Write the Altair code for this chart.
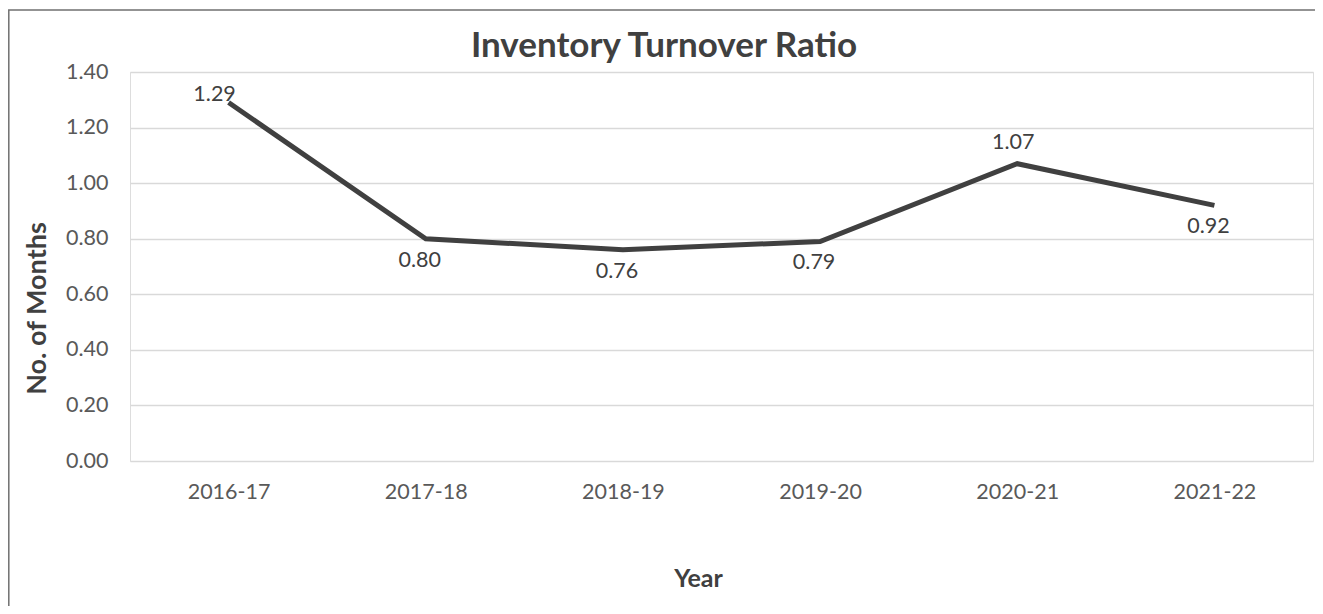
import altair as alt
import pandas as pd

years = ["2016-17", "2017-18", "2018-19", "2019-20", "2020-21", "2021-22"]
ratios = [1.29, 0.80, 0.76, 0.79, 1.07, 0.92]
above = ["2016-17", "2020-21"]
title_text = "Inventory Turnover Ratio"

df = pd.DataFrame({"Year": years, "Ratio": ratios})

W, H = 1183, 389
FONT = "Lato"
base = alt.Chart(df)

x_enc = alt.X(
    "Year:N",
    sort=years,
    scale=alt.Scale(type="point", padding=0.5),
    axis=alt.Axis(
        title="Year",
        labelAngle=0,
        labelFont=FONT,
        labelFontSize=21.5,
        labelColor="#595959",
        labelPadding=20,
        ticks=False,
        domain=False,
        grid=False,
        titleFont=FONT,
        titleFontSize=25,
        titleFontWeight="bold",
        titleColor="#404040",
        titleX=568,
        titleY=117,
        titleBaseline="middle",
        titleAlign="center",
    ),
)
y_enc = alt.Y(
    "Ratio:Q",
    scale=alt.Scale(domain=[0, 1.4], nice=False),
    axis=alt.Axis(
        title="No. of Months",
        values=[0, 0.2, 0.4, 0.6, 0.8, 1.0, 1.2, 1.4],
        format=".2f",
        labelFont=FONT,
        labelFontSize=21.5,
        labelColor="#595959",
        labelPadding=22,
        ticks=False,
        domain=False,
        gridColor="#d9d9d9",
        gridWidth=1.6,
        titleFont=FONT,
        titleFontSize=27,
        titleFontWeight="bold",
        titleColor="#404040",
        titleAngle=-90,
        titleX=-93,
        titleY=236,
        titleBaseline="middle",
        titleAlign="center",
    ),
)

line = base.mark_line(color="#404040", strokeWidth=5, strokeJoin="miter").encode(x=x_enc, y=y_enc)

lbl_common = dict(font=FONT, fontSize=21.5, color="#404040", baseline="middle", align="center")

lbl_first = base.transform_filter(alt.datum.Year == "2016-17").mark_text(
    dx=-14, dy=-8, **lbl_common
).encode(x=alt.X("Year:N", sort=years), y="Ratio:Q", text=alt.Text("Ratio:Q", format=".2f"))

lbl_above = base.transform_filter(alt.datum.Year == "2020-21").mark_text(
    dx=-4, dy=-21, **lbl_common
).encode(x=alt.X("Year:N", sort=years), y="Ratio:Q", text=alt.Text("Ratio:Q", format=".2f"))

lbl_below = base.transform_filter(
    alt.FieldOneOfPredicate(field="Year", oneOf=[y for y in years if y not in above])
).mark_text(dx=-6, dy=22, **lbl_common).encode(
    x=alt.X("Year:N", sort=years), y="Ratio:Q", text=alt.Text("Ratio:Q", format=".2f")
)

one = alt.Data(values=[{"t": title_text}])

title = alt.Chart(one).mark_text(
    font=FONT, fontSize=35, fontWeight="bold", color="#404040", baseline="middle", align="center"
).encode(x=alt.value(534), y=alt.value(-26), text="t:N")

border = alt.Chart(one).mark_rect(
    fill=None, stroke="#707070", strokeWidth=1.5
).encode(
    x=alt.value(-121.2),
    x2=alt.value(W + 0.8 + 2),
    y=alt.value(-62),
    y2=alt.value(H + 200),
)

chart = (
    alt.layer(line, lbl_first, lbl_above, lbl_below, title, border)
    .properties(
        width=W,
        height=H,
        autosize=alt.AutoSizeParams(type="none"),
        padding={"left": 122, "top": 64, "right": 2, "bottom": 145},
    )
    .configure_view(stroke=None)
    .configure(background="white")
)

chart.save("out.html", embed_options={"renderer": "svg", "actions": False})
